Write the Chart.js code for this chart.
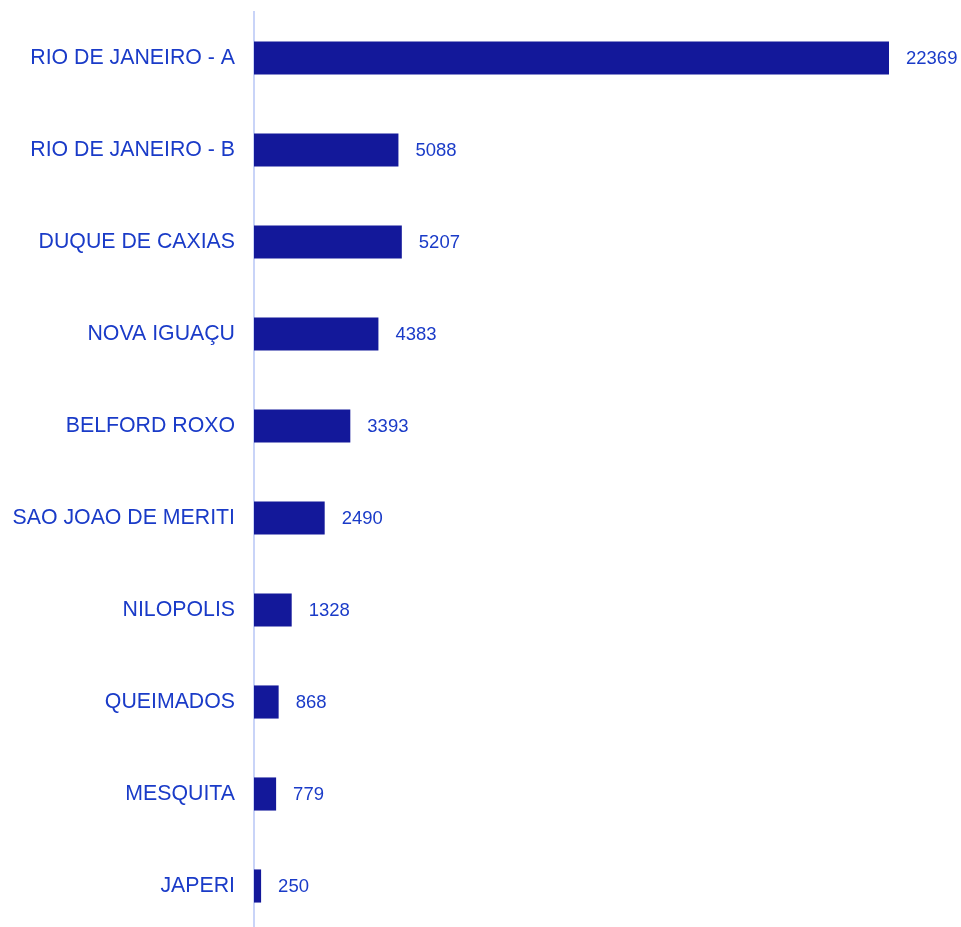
<!DOCTYPE html>
<html>
<head>
<meta charset="utf-8">
<script src="https://cdn.jsdelivr.net/npm/chart.js@4"></script>
<style>
  html, body { margin: 0; padding: 0; background: #fff; overflow: hidden; }
  #wrap { width: 961px; height: 932px; position: relative; }
</style>
</head>
<body>
<div id="wrap"><canvas id="myChart"></canvas></div>
<script>
  "use strict";

  const cities = ['RIO DE JANEIRO - A', 'RIO DE JANEIRO - B', 'DUQUE DE CAXIAS', 'NOVA IGUAÇU',
    'BELFORD ROXO', 'SAO JOAO DE MERITI', 'NILOPOLIS', 'QUEIMADOS', 'MESQUITA', 'JAPERI'];
  const totals = [22369, 5088, 5207, 4383, 3393, 2490, 1328, 868, 779, 250];

  const labelBlue = '#1a3bc8';
  const barBlue = '#13189a';

  // draws the number after each bar
  const valueLabels = {
    id: 'valueLabels',
    afterDatasetsDraw(chart) {
      const ctx = chart.ctx;
      const meta = chart.getDatasetMeta(0);
      ctx.save();
      ctx.font = '18.5px "Liberation Sans", Arial, sans-serif';
      ctx.fillStyle = labelBlue;
      ctx.textBaseline = 'middle';
      ctx.textAlign = 'left';
      meta.data.forEach(function (bar, i) {
        ctx.fillText(String(totals[i]), bar.x + 17, bar.y + 1);
      });
      ctx.restore();
    }
  };

  const ctx = document.getElementById('myChart').getContext('2d');
  const chart = new Chart(ctx, {
    type: 'bar',
    data: {
      labels: cities,
      datasets: [{
        data: totals,
        backgroundColor: barBlue,
        borderWidth: 0,
        barPercentage: 0.36,
        categoryPercentage: 1
      }]
    },
    options: {
      indexAxis: 'y',
      responsive: true,
      maintainAspectRatio: false,
      animation: false,
      layout: { padding: { top: 12, right: 72, bottom: 0, left: 0 } },
      plugins: {
        legend: { display: false },
        tooltip: { enabled: false }
      },
      scales: {
        x: {
          display: false,
          min: 0,
          max: 22369
        },
        y: {
          grid: { display: false, drawTicks: false },
          border: { color: '#c9d4f8', width: 2 },
          ticks: {
            color: labelBlue,
            padding: 19,
            font: { family: '"Liberation Sans", Arial, sans-serif', size: 21.3 }
          },
          afterFit(scale) {
            scale.width = 254;
            scale.paddingTop = 0;
            scale.paddingBottom = 0;
          }
        }
      }
    },
    plugins: [valueLabels]
  });
</script>
</body>
</html>
